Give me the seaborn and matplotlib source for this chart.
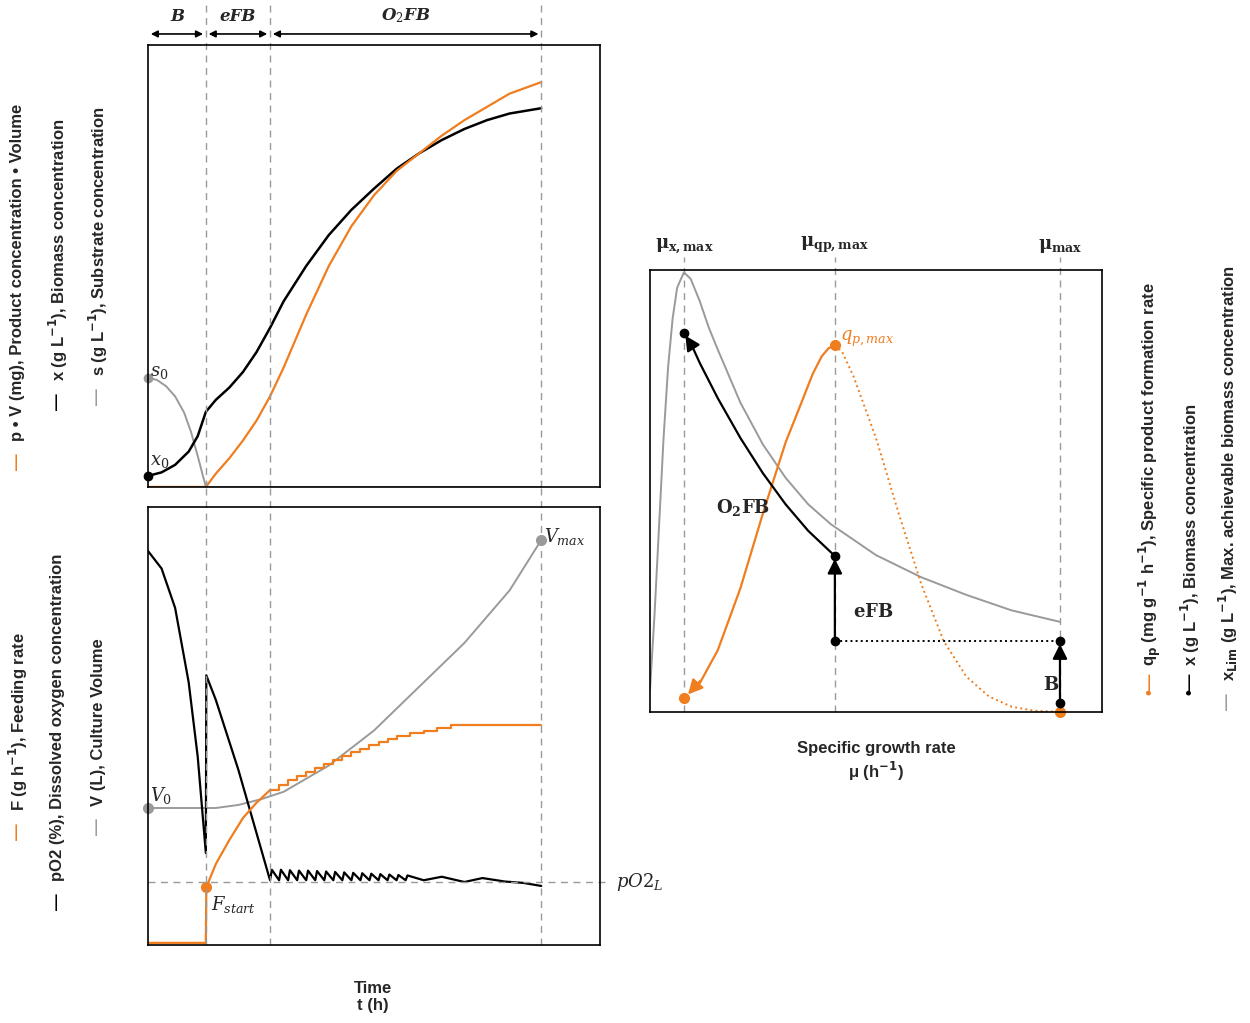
import numpy as np
import pandas as pd
import matplotlib.pyplot as plt
import seaborn as sns

sns.set_style("white")
plt.rcParams['font.family'] = ['Liberation Sans', 'DejaVu Sans']
plt.rcParams['mathtext.fontset'] = 'dejavuserif'

ORANGE = '#f07d1e'
GREY = '#9a9a9a'

# ---- phase boundaries (time, h) ----
t_phase = [0, 1.28, 2.7, 8.7]
phase_names = ['B', 'eFB', r'O$_2$FB']

# ---- top panel: s, x, p*V ----
s_t = [0, 0.2, 0.4, 0.6, 0.8, 0.95, 1.1, 1.28]
s_val = [24.7, 24.2, 22.8, 20.5, 16.8, 12.5, 7, 0]
x_t = [0, 0.3, 0.6, 0.9, 1.1, 1.28, 1.5, 1.8, 2.1, 2.4, 2.7, 3, 3.5, 4, 4.5, 5, 5.5, 6, 6.5, 7, 7.5, 8, 8.7]
x_val = [2.5, 3.3, 5, 8, 11.5, 17, 19.7, 22.5, 26, 30.5, 36, 42, 50, 57, 62.7, 67.5, 72, 75.5, 78.5, 81, 83, 84.5, 85.7]
p_t = [0, 1.28, 1.5, 1.8, 2.1, 2.4, 2.7, 3, 3.5, 4, 4.5, 5, 5.5, 6, 6.5, 7, 7.5, 8, 8.7]
p_val = [0, 0, 3, 6.5, 10.5, 15, 20.5, 27, 39, 50, 59, 66, 71.5, 75.5, 79.5, 83, 86, 89, 91.6]

# ---- bottom panel: V, pO2, F ----
V_t = [0, 1, 1.5, 2, 2.5, 3, 4, 5, 6, 7, 8, 8.7]
V_val = [31.3, 31.3, 31.3, 32, 33.3, 35, 41, 49, 59, 69, 81, 92.5]
pO2_t = [0, 0.3, 0.6, 0.9, 1.1, 1.28, 1.29, 1.5, 2, 2.5, 2.7]
pO2_val = [90, 86, 77, 60, 43, 21, 61.6, 56, 40, 22, 14.8]
tooth_t = [2.7, 2.9, 3.1, 3.3, 3.5, 3.7, 3.9, 4.1, 4.3, 4.5, 4.7, 4.9, 5.1, 5.3, 5.5, 5.7, 5.9]
tooth_peak = [17.2, 17.2, 17.1, 17.0, 17.0, 16.9, 16.8, 16.7, 16.6, 16.5, 16.4, 16.3, 16.2, 16.1, 16.0, 15.9, 15.8]
wave_t = [6.1, 6.5, 7.0, 7.4, 7.9, 8.3, 8.7]
wave_val = [14.8, 15.6, 14.4, 15.3, 14.5, 14.2, 13.5]
F_t = [0, 1.28, 1.29, 1.5, 1.8, 2.1, 2.4, 2.7]
F_val = [0.5, 0.5, 13.2, 18.5, 24, 29, 32.5, 35.4]
step_t = [2.7, 2.9, 3.1, 3.3, 3.5, 3.7, 3.9, 4.1, 4.3, 4.5, 4.7, 4.9, 5.1, 5.3, 5.5, 5.8, 6.1, 6.4, 6.7, 8.7]
step_F = [35.4, 36.5, 37.6, 38.6, 39.6, 40.5, 41.4, 42.3, 43.2, 44, 44.8, 45.6, 46.3, 47, 47.7, 48.4, 49, 49.6, 50.2, 50.2]
pO2_L = 14.4

# ---- right panel: growth rate ----
mu_marks = [0.75, 4.09, 9.07]
mu_names = [r'$\mathbf{\mu_{x,max}}$', r'$\mathbf{\mu_{qp,max}}$', r'$\mathbf{\mu_{max}}$']
xlim_mu = [0, 0.1, 0.2, 0.3, 0.4, 0.5, 0.6, 0.75, 0.9, 1.1, 1.3, 1.5, 2, 2.5, 3, 3.5, 4, 5, 6, 7, 8, 9.07]
xlim_val = [5, 22, 42, 62, 78, 89, 96, 99.5, 98, 93, 87, 82, 70, 60.5, 53, 47, 42.5, 35.5, 30.5, 26.5, 23, 20.4]
qp_mu = [4.09, 3.95, 3.8, 3.6, 3.35, 3, 2.5, 2, 1.5, 1.1]
qp_val = [83, 82.3, 80.5, 76.5, 70, 61, 45, 28, 14, 6.5]
qp_dot_mu = [4.09, 4.25, 4.5, 5, 5.5, 6, 6.5, 7, 7.5, 8, 8.5, 9.07]
qp_dot_val = [83, 81.5, 76, 62, 45, 29, 16, 8, 3.5, 1.2, 0.3, 0]
xo2_mu = [4.09, 3.5, 3, 2.5, 2, 1.5, 1.1, 0.9]
xo2_val = [35.3, 41, 47, 54, 62, 71, 79, 83.5]

fig = plt.figure(figsize=(12.5, 10.23), dpi=100)
ax1 = fig.add_axes([0.1184, 0.524, 0.3616, 0.432])
ax2 = fig.add_axes([0.1184, 0.0762, 0.3616, 0.428])
ax3 = fig.add_axes([0.52, 0.304, 0.3616, 0.432])
for ax in (ax1, ax2, ax3):
    ax.set_xlim(0, 10)
    ax.set_ylim(0, 100)
    ax.set_xticks([])
    ax.set_yticks([])
    for sp in ax.spines.values():
        sp.set_color('black')
        sp.set_linewidth(1.2)

def line(ax, x, y, color, **kw):
    sns.lineplot(x=x, y=y, ax=ax, color=color, estimator=None, sort=False, **kw)

# top
line(ax1, s_t, s_val, GREY, lw=1.4)
line(ax1, x_t, x_val, 'black', lw=1.8)
line(ax1, p_t, p_val, ORANGE, lw=1.6)
ax1.plot([1.28, 8.7], [0, 0], color=GREY, lw=1.4)
ax1.plot([s_t[0]], [s_val[0]], 'o', color=GREY, ms=6, clip_on=False)
ax1.plot([x_t[0]], [x_val[0]], 'o', color='black', ms=6, clip_on=False)
ax1.text(0.05, s_val[0] + 0.5, r'$s_0$', fontsize=13)
ax1.text(0.05, x_val[0] + 2.5, r'$x_0$', fontsize=13)

# bottom
saw_t, saw_v = [], []
for k in range(len(tooth_t) - 1):
    saw_t += [tooth_t[k], tooth_t[k] + 0.04]
    saw_v += [14.8, tooth_peak[k]]
line(ax2, V_t, V_val, GREY, lw=1.4)
line(ax2, pO2_t + saw_t + wave_t, pO2_val + saw_v + wave_val, 'black', lw=1.6)
line(ax2, F_t, F_val, ORANGE, lw=1.6)
ax2.step(step_t, step_F, where='post', color=ORANGE, lw=1.6)
ax2.plot([0], [V_val[0]], 'o', color=GREY, ms=7, clip_on=False)
ax2.plot([8.7], [V_val[-1]], 'o', color=GREY, ms=7)
ax2.plot([1.28], [13.2], 'o', color=ORANGE, ms=7)
ax2.text(0.05, V_val[0] + 1.5, r'$V_0$', fontsize=13)
ax2.text(8.75, V_val[-1] - 0.5, r'$V_{max}$', fontsize=13)
ax2.text(1.4, 8, r'$F_{start}$', fontsize=13)
ax2.plot([0, 10.2], [pO2_L, pO2_L], ls=(0, (5, 4)), color=GREY, lw=1, clip_on=False)
ax2.text(10.35, pO2_L, r'$pO2_L$', fontsize=13, va='center')

# phase lines spanning both panels and the header
for t in t_phase[1:]:
    ax1.axvline(t, ymin=0, ymax=1.09, ls=(0, (5, 4)), color=GREY, lw=1, clip_on=False)
    ax2.axvline(t, ymin=0, ymax=1.06, ls=(0, (5, 4)), color=GREY, lw=1, clip_on=False)
for a, b, name in zip(t_phase[:-1], t_phase[1:], phase_names):
    ax1.annotate('', xy=(a, 102.5), xytext=(b, 102.5), xycoords='data',
                 arrowprops=dict(arrowstyle='<|-|>', color='black', lw=1.2, mutation_scale=10),
                 annotation_clip=False)
    ax1.text((a + b) / 2, 104.5, name, ha='center', va='bottom', fontsize=12,
             fontweight='bold', style='italic', family='DejaVu Serif')

# right panel
for m, name in zip(mu_marks, mu_names):
    ax3.axvline(m, ymin=0, ymax=1.03, ls=(0, (5, 4)), color=GREY, lw=1, clip_on=False)
    ax3.text(m, 103.5, name, ha='center', va='bottom', fontsize=13)
line(ax3, xlim_mu, xlim_val, GREY, lw=1.4)
line(ax3, qp_mu, qp_val, ORANGE, lw=1.6)
line(ax3, qp_dot_mu, qp_dot_val, ORANGE, lw=1.4, ls=':')
ax3.annotate('', xy=(0.8, 3.5), xytext=(1.15, 7.5),
             arrowprops=dict(arrowstyle='-|>', color=ORANGE, lw=1.6, mutation_scale=22))
ax3.plot([0.75, 9.07], [3.2, 0], 'o', color=ORANGE, ms=7, clip_on=False)
ax3.plot([4.09], [83], 'o', color=ORANGE, ms=7)
ax3.text(4.2, 84, r'$q_{p,max}$', color=ORANGE, fontsize=13)
line(ax3, xo2_mu, xo2_val, 'black', lw=1.6)
ax3.annotate('', xy=(0.75, 85.7), xytext=(0.95, 82.5),
             arrowprops=dict(arrowstyle='-|>', color='black', lw=1.6, mutation_scale=22))
ax3.annotate('', xy=(4.09, 35.3), xytext=(4.09, 16),
             arrowprops=dict(arrowstyle='-|>', color='black', lw=1.6, mutation_scale=22))
ax3.annotate('', xy=(9.07, 16), xytext=(9.07, 2),
             arrowprops=dict(arrowstyle='-|>', color='black', lw=1.6, mutation_scale=22))
ax3.plot([4.09, 9.07], [16, 16], ':', color='black', lw=1.4)
ax3.plot([0.75, 4.09, 4.09, 9.07, 9.07], [85.7, 35.3, 16, 16, 2], 'o', color='black', ms=6)
ax3.text(1.45, 45, r'$\mathbf{O_2FB}$', fontsize=13)
ax3.text(4.5, 21.5, r'$\mathbf{eFB}$', fontsize=13)
ax3.text(8.7, 5, r'$\mathbf{B}$', fontsize=13)

# axis labels (vertical, with coloured legend marks)
def vlabel(px, py, mark, mark_color, text):
    x = px / 1250
    y = 1 - py / 1023
    fig.text(x, y, mark, rotation=90, ha='center', va='bottom', color=mark_color,
             fontsize=12, fontweight='bold')
    fig.text(x, y + 0.028, text, rotation=90, ha='center', va='bottom',
             fontsize=12, fontweight='bold', math_fontfamily='dejavusans')

SUP1 = r'$^{\mathbf{-1}}$'
vlabel(18, 470, '—', ORANGE, 'p • V (mg), Product concentration • Volume')
vlabel(58, 410, '—', 'black', f'x (g L{SUP1}), Biomass concentration')
vlabel(98, 405, '—', GREY, f's (g L{SUP1}), Substrate concentration')
vlabel(18, 840, '—', ORANGE, f'F (g h{SUP1}), Feeding rate')
vlabel(58, 910, '—', 'black', 'pO2 (%), Dissolved oxygen concentration')
vlabel(98, 835, '—', GREY, 'V (L), Culture Volume')
vlabel(1150, 695, '•—', ORANGE, r'q$_\mathbf{p}$ (mg g' + SUP1 + ' h' + SUP1 + '), Specific product formation rate')
vlabel(1190, 695, '•—', 'black', f'x (g L{SUP1}), Biomass concentration')
vlabel(1228, 710, '—', GREY, r'x$_\mathbf{Lim}$ (g L' + SUP1 + '), Max. achievable biomass concentration')

fig.text(373 / 1250, 1 - 997 / 1023, 'Time\nt (h)', ha='center', va='center',
         fontsize=12, fontweight='bold')
fig.text(876 / 1250, 1 - 762 / 1023, 'Specific growth rate\nμ (h' + SUP1 + ')', ha='center',
         va='center', fontsize=12, fontweight='bold', math_fontfamily='dejavusans')

fig.savefig('out.png', dpi=100)
